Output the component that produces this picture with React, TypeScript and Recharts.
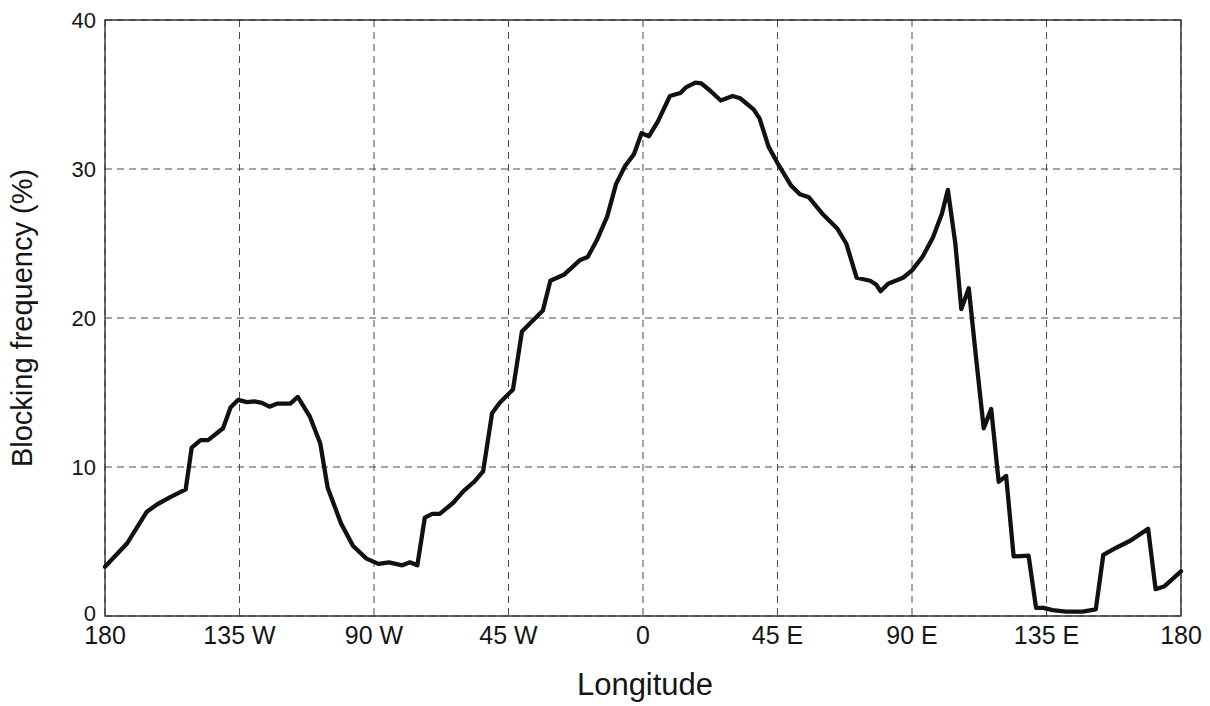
import { LineChart, Line, XAxis, YAxis, CartesianGrid, ReferenceArea, Label } from "recharts";

// longitude in degrees (west negative) and blocking frequency in percent
const longitudes = [
  -180, -172.5, -166, -162.5, -158, -153, -151, -148, -145.5, -140.5,
  -138, -135.5, -132.5, -130, -127.5, -125, -122.5, -118, -115.5, -111.5,
  -108, -105.5, -101, -97, -92.5, -88.5, -85, -80.5, -78, -75.5,
  -73, -70.5, -68, -63.5, -60, -56.5, -53.5, -50.5, -48, -43.5,
  -40.5, -37.5, -33.5, -31, -26.5, -21, -18.5, -15.5, -12, -9,
  -6, -3, -0.5, 2, 5, 9, 12.5, 14.5, 17.5, 19.5,
  22.5, 26, 30, 32.5, 37, 39, 42, 45, 49.5, 52.5,
  55.5, 60, 65, 68, 71.5, 76, 78, 79.5, 82, 87,
  90, 93.5, 97, 100, 102, 104.5, 106.5, 109, 111.5, 114,
  116.5, 119, 121.5, 124, 129, 131.5, 134, 137, 141.5, 147,
  151.5, 154, 158.5, 163, 169, 171.5, 174.5, 180,
];

const blocking = [
  3.3, 4.9, 7.0, 7.5, 8.0, 8.5, 11.3, 11.8, 11.8, 12.6,
  14.0, 14.5, 14.35, 14.4, 14.3, 14.05, 14.25, 14.25, 14.7, 13.4,
  11.6, 8.6, 6.2, 4.7, 3.85, 3.5, 3.6, 3.4, 3.6, 3.4,
  6.6, 6.85, 6.85, 7.6, 8.4, 9.0, 9.7, 13.6, 14.3, 15.2,
  19.1, 19.7, 20.5, 22.5, 22.9, 23.9, 24.1, 25.2, 26.8, 29.0,
  30.2, 31.0, 32.4, 32.2, 33.2, 34.9, 35.1, 35.5, 35.8, 35.75,
  35.25, 34.6, 34.9, 34.75, 34.0, 33.4, 31.5, 30.4, 28.9, 28.3,
  28.1, 27.0, 26.0, 25.0, 22.7, 22.5, 22.25, 21.8, 22.3, 22.7,
  23.2, 24.1, 25.4, 27.0, 28.6, 25.0, 20.6, 22.0, 17.2, 12.6,
  13.9, 9.0, 9.4, 4.0, 4.05, 0.55, 0.55, 0.4, 0.3, 0.3,
  0.45, 4.1, 4.6, 5.05, 5.85, 1.8, 2.0, 3.0,
];

const lonTicks = [-180, -135, -90, -45, 0, 45, 90, 135, 180];
const lonTickLabels = ["180", "135 W", "90 W", "45 W", "0", "45 E", "90 E", "135 E", "180"];
const freqTicks = [0, 10, 20, 30, 40];

const data = longitudes.map((lon, i) => ({ lon, freq: blocking[i] }));

const FONT = "'Liberation Sans', Arial, Helvetica, sans-serif";
const INK = "#151515";

function LonTick(props: any) {
  const { x, y, payload } = props;
  const idx = lonTicks.indexOf(payload.value);
  return (
    <text x={x} y={y + 28} textAnchor="middle" fontSize={25} fontFamily={FONT} fill={INK}>
      {idx >= 0 ? lonTickLabels[idx] : payload.value}
    </text>
  );
}

function FreqTick(props: any) {
  const { x, y, payload } = props;
  // the bottom "0" sits a little higher so it clears the "180" below it
  const dy = payload.value === 0 ? 5 : 8;
  return (
    <text x={x} y={y + dy} textAnchor="end" fontSize={22} fontFamily={FONT} fill={INK}>
      {payload.value}
    </text>
  );
}

export default function App() {
  return (
    <div style={{ position: "absolute", left: 0, top: 0, width: 1210, height: 706, background: "#fff" }}>
      <LineChart
        width={1210}
        height={706}
        data={data}
        margin={{ top: 20, right: 29, bottom: 30, left: 35 }}
      >
        <CartesianGrid stroke="#4a4a4a" strokeWidth={1} strokeDasharray="7 5" />
        <XAxis
          dataKey="lon"
          type="number"
          domain={[-180, 180]}
          ticks={lonTicks}
          tick={<LonTick />}
          tickLine={false}
          tickSize={0}
          tickMargin={0}
          axisLine={false}
          height={60}
          interval={0}
        >
          <Label
            content={() => (
              <text x={645} y={695} textAnchor="middle" fontSize={31} fontFamily={FONT} fill={INK}>
                Longitude
              </text>
            )}
          />
        </XAxis>
        <YAxis
          type="number"
          domain={[0, 40]}
          ticks={freqTicks}
          tick={<FreqTick />}
          tickLine={false}
          tickSize={0}
          tickMargin={9}
          axisLine={false}
          width={70}
          interval={0}
        >
          <Label
            content={() => (
              <text
                x={32}
                y={318}
                textAnchor="middle"
                fontSize={29}
                fontFamily={FONT}
                fill={INK}
                transform="rotate(-90, 32, 318)"
              >
                Blocking frequency (%)
              </text>
            )}
          />
        </YAxis>
        <ReferenceArea x1={-180} x2={180} y1={0} y2={40} fill="none" stroke="#333" strokeWidth={1.4} />
        <Line
          type="linear"
          dataKey="freq"
          stroke="#111"
          strokeWidth={4.3}
          strokeLinejoin="round"
          strokeLinecap="round"
          dot={false}
          activeDot={false}
          isAnimationActive={false}
        />
      </LineChart>
    </div>
  );
}
